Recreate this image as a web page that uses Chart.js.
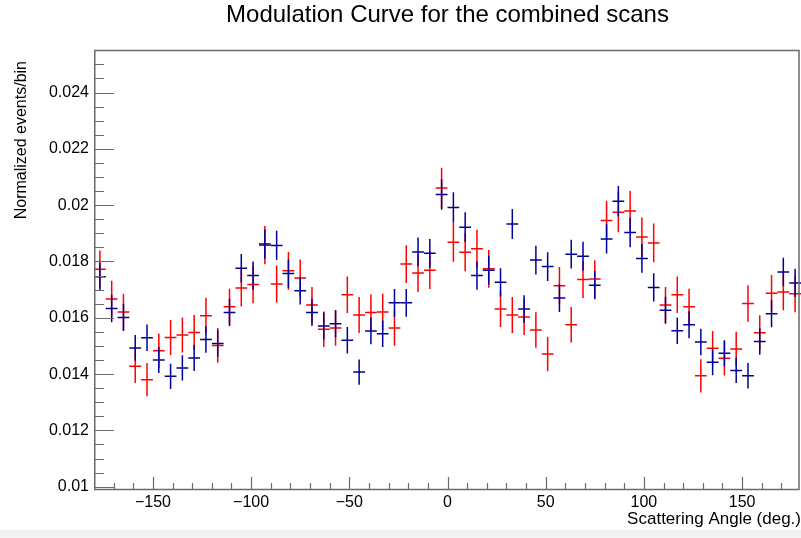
<!DOCTYPE html>
<html>
<head>
<meta charset="utf-8">
<script src="https://cdn.jsdelivr.net/npm/chart.js@4/dist/chart.umd.min.js"></script>
<style>
html,body{margin:0;padding:0;}
body{width:801px;height:538px;overflow:hidden;position:relative;
  background:linear-gradient(to bottom,#ffffff 0px,#ffffff 529px,#f1f1f1 531px,#f4f4f4 538px);}
#wrap{position:absolute;left:0;top:0;width:801px;height:538px;}
</style>
</head>
<body>
<div id="wrap"><canvas id="c"></canvas></div>
<script>
// ---- Data ----
const angles = [-177,-171,-165,-159,-153,-147,-141,-135,-129,-123,
  -117,-111,-105,-99,-93,-87,-81,-75,-69,-63,
  -57,-51,-45,-39,-33,-27,-21,-15,-9,-3,
  3,9,15,21,27,33,39,45,51,57,
  63,69,75,81,87,93,99,105,111,117,
  123,129,135,141,147,153,159,165,171,177];

const binHalfWidth = 3;

const redValues = [0.01772,0.01667,0.01621,0.01428,0.01380,0.01483,0.01530,0.01539,0.01548,0.01607,
  0.01502,0.01639,0.01706,0.01718,0.01858,0.01720,0.01767,0.01741,0.01645,0.01559,
  0.01564,0.01682,0.01610,0.01619,0.01621,0.01564,0.01791,0.01759,0.01769,0.02061,
  0.01868,0.01833,0.01845,0.01774,0.01631,0.01610,0.01603,0.01557,0.01471,0.01714,
  0.01575,0.01736,0.01738,0.01946,0.01975,0.01979,0.01887,0.01866,0.01645,0.01682,
  0.01639,0.01394,0.01492,0.01456,0.01489,0.01651,0.01547,0.01687,0.01692,0.01685];

const redErrors = [0.00067,0.00065,0.00064,0.00060,0.00059,0.00061,0.00062,0.00062,0.00062,0.00064,
  0.00062,0.00064,0.00066,0.00066,0.00068,0.00066,0.00067,0.00066,0.00064,0.00063,
  0.00063,0.00065,0.00064,0.00064,0.00064,0.00063,0.00067,0.00067,0.00067,0.00072,
  0.00069,0.00068,0.00068,0.00067,0.00064,0.00064,0.00064,0.00063,0.00061,0.00066,
  0.00063,0.00066,0.00066,0.00070,0.00071,0.00071,0.00069,0.00069,0.00064,0.00065,
  0.00064,0.00059,0.00061,0.00061,0.00061,0.00065,0.00062,0.00065,0.00065,0.00065];

const blueValues = [0.01746,0.01633,0.01601,0.01493,0.01529,0.01450,0.01392,0.01422,0.01457,0.01523,
  0.01509,0.01619,0.01776,0.01750,0.01862,0.01857,0.01757,0.01696,0.01619,0.01571,
  0.01579,0.01520,0.01407,0.01553,0.01543,0.01653,0.01653,0.01834,0.01829,0.02038,
  0.01992,0.01922,0.01750,0.01769,0.01726,0.01933,0.01631,0.01805,0.01782,0.01670,
  0.01826,0.01819,0.01716,0.01880,0.02014,0.01903,0.01811,0.01708,0.01627,0.01554,
  0.01575,0.01514,0.01442,0.01474,0.01413,0.01394,0.01516,0.01614,0.01763,0.01724];

const blueErrors = [0.00050,0.00049,0.00048,0.00046,0.00047,0.00046,0.00045,0.00045,0.00046,0.00047,
  0.00047,0.00048,0.00051,0.00050,0.00052,0.00052,0.00050,0.00049,0.00048,0.00048,
  0.00048,0.00047,0.00045,0.00047,0.00047,0.00049,0.00049,0.00051,0.00051,0.00054,
  0.00054,0.00053,0.00050,0.00051,0.00050,0.00053,0.00049,0.00051,0.00051,0.00049,
  0.00051,0.00051,0.00050,0.00052,0.00054,0.00052,0.00051,0.00050,0.00048,0.00047,
  0.00048,0.00047,0.00046,0.00046,0.00045,0.00045,0.00047,0.00048,0.00050,0.00050];

const xTickValues = [-150,-100,-50,0,50,100,150];
const xTickLabels = ['\u2212150','\u2212100','\u221250','0','50','100','150'];
const yTickValues = [0.010,0.012,0.014,0.016,0.018,0.020,0.022,0.024];
const yTickLabels = ['0.01','0.012','0.014','0.016','0.018','0.02','0.022','0.024'];

const xRange = [-180, 180];
const yRange = [0.009883, 0.025512];
const xMinorStep = 10;
const yMinorStep = 0.0005;

const titleText = 'Modulation Curve for the combined scans';
const xTitleText = 'Scattering Angle (deg.)';
const yTitleText = 'Normalized events/bin';

// ---- Styles ----
const FONT = '"Liberation Sans", Arial, Helvetica, sans-serif';
const RED = '#ff0000';
const BLUE = '#000099';
const FRAME = '#6a6a6a';

function points(vals, errs){
  return vals.map((v,i)=>({x: angles[i], y: v, xe: binHalfWidth, ye: errs[i]}));
}

const errorBars = {
  id: 'errorBars',
  afterDatasetsDraw(chart){
    const {ctx, chartArea: a, scales: {x: xs, y: ys}} = chart;
    ctx.save();
    ctx.beginPath();
    ctx.rect(a.left, a.top, a.right - a.left, a.bottom - a.top);
    ctx.clip();
    chart.data.datasets.forEach(ds => {
      ctx.strokeStyle = ds.borderColor;
      ctx.lineWidth = 1.5;
      ds.data.forEach(p => {
        const px = xs.getPixelForValue(p.x), py = ys.getPixelForValue(p.y);
        const x0 = xs.getPixelForValue(p.x - p.xe), x1 = xs.getPixelForValue(p.x + p.xe);
        const y0 = ys.getPixelForValue(p.y - p.ye), y1 = ys.getPixelForValue(p.y + p.ye);
        ctx.beginPath();
        ctx.moveTo(x0, py); ctx.lineTo(x1, py);
        ctx.moveTo(px, y0); ctx.lineTo(px, y1);
        ctx.stroke();
      });
    });
    ctx.restore();
  }
};

const rootFrame = {
  id: 'rootFrame',
  afterDraw(chart){
    const {ctx, chartArea: a, scales: {x: xs, y: ys}} = chart;
    ctx.save();
    ctx.strokeStyle = FRAME;
    ctx.lineWidth = 1.5;
    // frame
    ctx.beginPath();
    ctx.moveTo(a.left + 0.75, a.bottom);
    ctx.lineTo(a.left + 0.75, a.top + 0.5);
    ctx.lineTo(a.right - 2, a.top + 0.5);
    ctx.lineTo(a.right - 2, a.bottom - 0.5);
    ctx.lineTo(a.left, a.bottom - 0.5);
    ctx.stroke();
    // y ticks
    ctx.lineWidth = 1.2;
    ctx.beginPath();
    const nY = Math.round((yRange[1] - yTickValues[0]) / yMinorStep);
    for (let k = 0; k <= nY; k++) {
      const v = yTickValues[0] + k * yMinorStep;
      if (v > yRange[1] + 1e-9) break;
      const major = yTickValues.some(t => Math.abs(t - v) < 1e-9);
      const py = Math.round(ys.getPixelForValue(v)) + 0.5;
      ctx.moveTo(a.left, py);
      ctx.lineTo(a.left + (major ? 20 : 10), py);
    }
    // x ticks
    for (let v = xRange[0] + xMinorStep; v < xRange[1]; v += xMinorStep) {
      const major = xTickValues.includes(v);
      const px = Math.round(xs.getPixelForValue(v)) + 0.5;
      ctx.moveTo(px, a.bottom);
      ctx.lineTo(px, a.bottom - (major ? 13 : 7));
    }
    ctx.stroke();
    // y axis title
    ctx.fillStyle = '#000';
    ctx.font = '16px ' + FONT;
    ctx.translate(26, 61);
    ctx.rotate(-Math.PI / 2);
    ctx.textAlign = 'right';
    ctx.textBaseline = 'alphabetic';
    ctx.fillText(yTitleText, 0, 0);
    ctx.restore();
  }
};

new Chart(document.getElementById('c'), {
  type: 'scatter',
  data: {
    datasets: [
      {label: 'red', data: points(redValues, redErrors), borderColor: RED, backgroundColor: RED, pointRadius: 0, showLine: false},
      {label: 'blue', data: points(blueValues, blueErrors), borderColor: BLUE, backgroundColor: BLUE, pointRadius: 0, showLine: false}
    ]
  },
  options: {
    responsive: true,
    maintainAspectRatio: false,
    devicePixelRatio: 1,
    animation: false,
    events: [],
    layout: {padding: {left: 0, right: 0, top: 0, bottom: 0}},
    plugins: {
      legend: {display: false},
      tooltip: {enabled: false},
      title: {
        display: true,
        text: titleText,
        fullSize: false,
        color: '#000',
        font: {family: FONT, size: 24, weight: 'normal'},
        padding: {top: 1, bottom: 20.2}
      }
    },
    scales: {
      x: {
        type: 'linear',
        min: xRange[0], max: xRange[1],
        afterBuildTicks: s => { s.ticks = xTickValues.map(v => ({value: v})); },
        afterFit: s => { s.height = 48; },
        grid: {display: false, drawTicks: false},
        border: {display: false},
        ticks: {
          color: '#000', padding: 3, maxRotation: 0, autoSkip: false,
          font: {family: FONT, size: 16},
          callback: (v, i) => xTickLabels[i]
        },
        title: {
          display: true, text: xTitleText, align: 'end', color: '#000',
          font: {family: FONT, size: 17},
          padding: {top: 0, bottom: 8.5}
        }
      },
      y: {
        type: 'linear',
        min: yRange[0], max: yRange[1],
        afterBuildTicks: s => { s.ticks = yTickValues.map(v => ({value: v})); },
        afterFit: s => { s.width = 94; },
        grid: {display: false, drawTicks: false},
        border: {display: false},
        ticks: {
          color: '#000', padding: 5, autoSkip: false,
          font: {family: FONT, size: 16},
          callback: (v, i) => yTickLabels[i]
        }
      }
    }
  },
  plugins: [errorBars, rootFrame]
});
</script>
</body>
</html>
